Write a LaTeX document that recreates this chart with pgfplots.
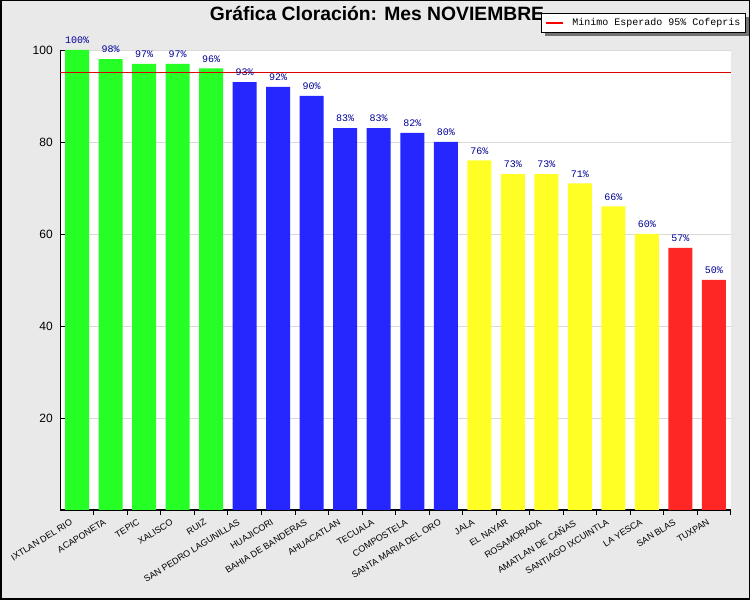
\documentclass[border=0pt]{standalone}
\usepackage{fontspec}
\setmainfont{Liberation Sans}
\setmonofont{Liberation Mono}
\usepackage{pgfplots}
\pgfplotsset{compat=1.18}
\usetikzlibrary{shadows}
\definecolor{fondo}{RGB}{233,233,233}
\definecolor{verde}{RGB}{38,255,38}
\definecolor{azul}{RGB}{38,38,255}
\definecolor{amarillo}{RGB}{255,255,38}
\definecolor{rojo}{RGB}{255,38,38}
\definecolor{etiqueta}{RGB}{0,0,150}
\begin{document}
\begin{tikzpicture}[x=1pt,y=1pt]
\useasboundingbox (0,0) rectangle (750,600);
\fill[fondo] (0,0) rectangle (750,600);
\draw[black,line width=1.5pt] (0.75,0.75) rectangle (749.25,599.25);
\begin{axis}[
    at={(60.25pt,90pt)},
    anchor=south west,
    scale only axis,
    width=670.5pt,
    height=460pt,
    xmin=-0.5, xmax=19.5,
    ymin=0, ymax=100,
    clip=false,
    axis background/.style={fill=white},
    axis x line=bottom,
    axis y line=left,
    axis line style={-,black,line width=1pt},
    tick align=inside,
    tick pos=left,
    ytick={20,40,60,80,100},
    ymajorgrids,
    grid style={line width=0.8pt,black!15},
    major tick length=5pt,
    minor tick length=5pt,
    major y tick style={black,line width=0.8pt},
    minor x tick style={black,line width=0.8pt},
    major x tick style={draw=none},
    tick label style={/pgf/number format/assume math mode=true},
    yticklabel style={font=\fontsize{12}{12}\selectfont,xshift=-4pt},
    xtick={0,...,19},
    minor xtick={0.5,1.5,...,19.5},
    xticklabels={IXTLAN DEL RIO,ACAPONETA,TEPIC,XALISCO,RUIZ,SAN PEDRO LAGUNILLAS,HUAJICORI,BAHIA DE BANDERAS,AHUACATLAN,TECUALA,COMPOSTELA,SANTA MARIA DEL ORO,JALA,EL NAYAR,ROSAMORADA,AMATLAN DE CAÑAS,SANTIAGO IXCUINTLA,LA YESCA,SAN BLAS,TUXPAN},
    xticklabel style={font=\fontsize{9}{10}\selectfont,rotate=32,anchor=north east,inner sep=0pt,xshift=-8pt,yshift=1pt},
    ybar,
    bar shift=0pt,
    bar width=24pt,
    every axis plot/.append style={draw=none},
    nodes near coords={\pgfmathprintnumber[assume math mode=true]{\pgfplotspointmeta}\%},
    every node near coord/.append style={font=\ttfamily\fontsize{10}{10}\selectfont,text=etiqueta,inner sep=0pt,yshift=6pt},
    every axis title shift=0pt,
    title={\bfseries Gráfica Cloración: Mes NOVIEMBRE},
    title style={font=\fontsize{19.3}{20}\selectfont,at={(0.4724,1.0785)},anchor=center,inner sep=0pt},
    legend style={at={(0.717,1.0806)},anchor=north west,draw=black,line width=0.8pt,fill=white,
        font=\ttfamily\fontsize{10}{10}\selectfont,
        drop shadow={shadow xshift=4pt,shadow yshift=-4pt,fill=black!55,opacity=1},
        inner xsep=3pt,inner ysep=3pt},
    legend cell align=left,
    legend image code/.code={},
]
\addplot[fill=verde,forget plot] coordinates {(0,100)(1,98)(2,97)(3,97)(4,96)};
\addplot[fill=azul,forget plot] coordinates {(5,93)(6,92)(7,90)(8,83)(9,83)(10,82)(11,80)};
\addplot[fill=amarillo,forget plot] coordinates {(12,76)(13,73)(14,73)(15,71)(16,66)(17,60)};
\addplot[fill=rojo,forget plot] coordinates {(18,57)(19,50)};
\addplot[sharp plot,draw=red!85!black,line width=1pt,nodes near coords={}] coordinates {(-0.5,95)(19.5,95)};
\addlegendentry{\textcolor{red}{\rule[2pt]{17pt}{1.4pt}}\hspace*{9pt}Minimo Esperado 95\% Cofepris\hspace{8pt}}
\end{axis}
\end{tikzpicture}
\end{document}
